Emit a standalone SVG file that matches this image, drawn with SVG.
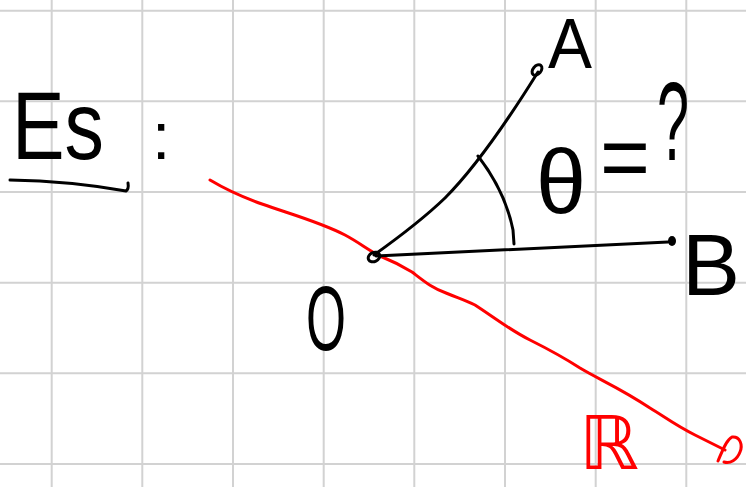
<svg xmlns="http://www.w3.org/2000/svg" width="746" height="487" viewBox="0 0 746 487">
<style>
.grid{stroke:#d2d2d2;stroke-width:2;fill:none}
.ink{stroke:#000;stroke-width:3;fill:none;stroke-linecap:round;stroke-linejoin:round}
.red{stroke:#f00;stroke-width:3;fill:none;stroke-linecap:round;stroke-linejoin:round}
.t{font-family:"Liberation Sans","DejaVu Sans",sans-serif;fill:#000}
.tr{font-family:"DejaVu Sans","Liberation Sans",sans-serif;fill:#f00}
</style>
<rect width="746" height="487" fill="#fff"/>
<g id="grid" class="grid">
<path d="M51.7 0V487M142.3 0V487M233 0V487M323.7 0V487M414.3 0V487M505 0V487M595.7 0V487M686.3 0V487"/>
<path d="M0 10.7H746M0 101.3H746M0 192H746M0 282.7H746M0 373.3H746M0 464H746"/>
</g>
<g id="title">
<text class="t" x="12" y="159" font-size="96" textLength="92" lengthAdjust="spacingAndGlyphs">Es</text>
<path class="ink" d="M10 180 Q70 181 126 191 Q129 189 128 183"/>
<text class="t" x="152" y="159" font-size="66">:</text>
</g>
<g id="line-R">
<path class="red" d="M210 180 C230 192 245 198 262 204 C290 214 320 222 345 235 C360 243 368 250 380 256 C395 262 402 266 412 272 C425 282 432 288 446 293 C458 298 465 300 475 305 C495 318 510 330 530 340 C550 350 563 357 580 368 C600 380 620 388 650 408 C665 417 675 425 695 435 C705 440 715 445 725 450"/>
<path class="red" d="M718 461 C722 452 726 440 732 437 C740 436 743 445 740 452 C737 460 730 464 724 462"/>
<text class="tr" x="579" y="469" font-size="74" textLength="60" lengthAdjust="spacingAndGlyphs">ℝ</text>
</g>
<g id="connectors">
<path id="OA" class="ink" d="M374 255 C395 240 420 222 445 198 C475 168 505 125 538 72"/>
<path id="OB" class="ink" d="M376 256 L668 242"/>
<path id="angle" class="ink" d="M478 156 C495 178 508 205 513 230 L514 244"/>
</g>
<g id="node-O">
<ellipse class="ink" cx="374" cy="257" rx="6" ry="4.5" transform="rotate(-25 374 257)"/>
<text class="t" x="306" y="350" font-size="90" textLength="40" lengthAdjust="spacingAndGlyphs">O</text>
</g>
<g id="node-A">
<ellipse class="ink" cx="537" cy="70" rx="4" ry="6" transform="rotate(40 537 70)"/>
<text class="t" x="548" y="68" font-size="70" textLength="44" lengthAdjust="spacingAndGlyphs">A</text>
</g>
<g id="node-B">
<ellipse cx="672" cy="241" rx="4" ry="5" fill="#000"/>
<text class="t" x="682" y="295" font-size="88" textLength="58" lengthAdjust="spacingAndGlyphs">B</text>
</g>
<g id="label-theta">
<text class="t" font-size="90"><tspan x="536" y="213">θ</tspan><tspan x="600" y="188" textLength="50" lengthAdjust="spacingAndGlyphs">=</tspan><tspan x="657" y="160" font-size="112" textLength="32" lengthAdjust="spacingAndGlyphs">?</tspan></text>
</g>
</svg>
